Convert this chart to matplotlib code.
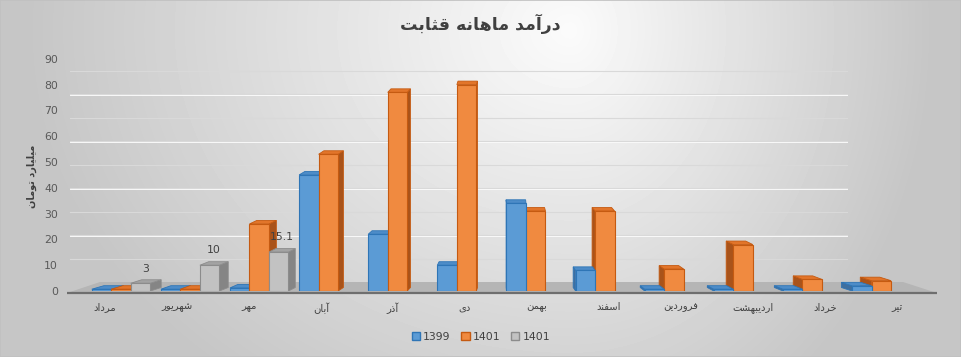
import numpy as np
import matplotlib.pyplot as plt
from matplotlib.patches import Polygon, Patch

# Data
months = ['مرداد', 'شهریور', 'مهر', 'آبان', 'آذر', 'دی', 'بهمن', 'اسفند',
          'فروردین', 'اردیبهشت', 'خرداد', 'تیر']
s1399 = [0.7, 0.7, 1.2, 45, 22, 10, 34, 8, 0.7, 0.7, 0.7, 2]
s1401 = [0.7, 0.7, 26, 53, 77, 80, 31, 31, 8.5, 18, 4.5, 4]
s1401_b = [3, 10, 15.1, 0, 0, 0, 0, 0, 0, 0, 0, 0]
legend_labels = ['1399', '1401', '1401']
title = 'درآمد ماهانه قثابت'
ylabel = 'میلیارد تومان'

# Persian shaping (matplotlib has no complex text layout)
FORMS = {
    'ا': ('\uFE8D', '\uFE8E', None, None),
    'آ': ('\uFE81', '\uFE82', None, None),
    'ب': ('\uFE8F', '\uFE90', '\uFE91', '\uFE92'),
    'ت': ('\uFE95', '\uFE96', '\uFE97', '\uFE98'),
    'ث': ('\uFE99', '\uFE9A', '\uFE9B', '\uFE9C'),
    'خ': ('\uFEA5', '\uFEA6', '\uFEA7', '\uFEA8'),
    'د': ('\uFEA9', '\uFEAA', None, None),
    'ذ': ('\uFEAB', '\uFEAC', None, None),
    'ر': ('\uFEAD', '\uFEAE', None, None),
    'س': ('\uFEB1', '\uFEB2', '\uFEB3', '\uFEB4'),
    'ش': ('\uFEB5', '\uFEB6', '\uFEB7', '\uFEB8'),
    'ف': ('\uFED1', '\uFED2', '\uFED3', '\uFED4'),
    'ق': ('\uFED5', '\uFED6', '\uFED7', '\uFED8'),
    'ل': ('\uFEDD', '\uFEDE', '\uFEDF', '\uFEE0'),
    'م': ('\uFEE1', '\uFEE2', '\uFEE3', '\uFEE4'),
    'ن': ('\uFEE5', '\uFEE6', '\uFEE7', '\uFEE8'),
    'ه': ('\uFEE9', '\uFEEA', '\uFEEB', '\uFEEC'),
    'و': ('\uFEED', '\uFEEE', None, None),
    'ی': ('\uFEEF', '\uFEF0', '\uFEF3', '\uFEF4'),
}


def fa(text):
    out = []
    for j, ch in enumerate(text):
        if ch not in FORMS:
            out.append(ch)
            continue
        prev = text[j - 1] if j > 0 else ''
        nxt = text[j + 1] if j + 1 < len(text) else ''
        jp = prev in FORMS and FORMS[prev][2] is not None
        jn = nxt in FORMS and FORMS[ch][2] is not None
        f = FORMS[ch]
        if jp and jn:
            out.append(f[3])
        elif jp:
            out.append(f[1])
        elif jn:
            out.append(f[2])
        else:
            out.append(f[0])
    return ''.join(out[::-1])


W, H = 961, 357
fig = plt.figure(figsize=(W / 100, H / 100), dpi=100)

# gradient background
bg = fig.add_axes([0, 0, 1, 1], zorder=-10)
yy, xx = np.mgrid[0:H, 0:W]
sx = np.where(xx < 570, 540.0, 360.0)
d = np.sqrt(((xx - 570) / sx) ** 2 + ((yy - 30) / 440) ** 2)
shade = 251 - 53 * np.clip(d, 0, 1)
bg.imshow(shade, cmap='gray', vmin=0, vmax=255, aspect='auto', extent=[0, 1, 0, 1])
bg.axis('off')

# plot area: x unit = 72 px, y unit = 2.58 px
PXX, PXY = 72.0, 2.58
ax = fig.add_axes([69 / W, (H - 291) / H, 864 / W, 232.2 / H])
ax.patch.set_alpha(0)
ax.set_xlim(-0.5, 11.5)
ax.set_ylim(0, 90)
for s in ax.spines.values():
    s.set_visible(False)

# back wall gridlines and floor
yb0 = (291 - 282) / PXY
gx = [(70 - 105) / PXX, (847 - 105) / PXX]
for v in range(10, 91, 10):
    yg = yb0 + v * 2.35 / PXY
    ax.plot(gx, [yg, yg], color='#d9d9d9', lw=0.8, zorder=0.5)
    ax.plot(gx, [yg - 0.35, yg - 0.35], color='#fbfbfb', lw=0.7, zorder=0.4)
yf = -0.78
floor = Polygon([((67 - 105) / PXX, yf), ((937 - 105) / PXX, yf),
                 ((903 - 105) / PXX, yb0), ((100 - 105) / PXX, yb0)],
                closed=True, facecolor='#b5b5b5', edgecolor='none', zorder=0.6, clip_on=False)
ax.add_patch(floor)
ax.plot([(67 - 105) / PXX, (937 - 105) / PXX], [yf, yf], color='#6e6e6e', lw=1.6,
        zorder=0.7, clip_on=False, solid_capstyle='butt')

# 3D-looking bars
VP, F, DYP = 505.0, 0.03, 3.5
c = (VP - 105) / PXX
BW = 19.5 / PXX
series = [
    (s1399, '#5b9bd5', '#2e75b6', '#3f6f9f', '#4d8cc8'),
    (s1401, '#f08a40', '#c55a11', '#a9531a', '#e2752a'),
    (s1401_b, '#c2c2c2', '#8c8c8c', '#858585', '#a3a3a3'),
]
x_idx = np.arange(len(months))
for k, (vals, fc, ec, sc, tc) in enumerate(series):
    xs = c + (x_idx - c) * 0.96 + (k - 1) * BW
    bars = ax.bar(xs, vals, width=BW, color=fc, edgecolor=ec, linewidth=0.8)
    for xc, v, p in zip(xs, vals, bars):
        if v <= 0:
            p.set_visible(False)
            continue
        xp = 105 + PXX * xc
        z = 3 - abs(xp - VP) / 1000.0
        p.set_zorder(z)
        dx = (VP - xp) * F / PXX
        dy = DYP / PXY
        x0, x1 = xc - BW / 2, xc + BW / 2
        xsd = x1 if dx > 0 else x0
        side = Polygon([(xsd, 0), (xsd, v), (xsd + dx, v + dy), (xsd + dx, dy)],
                       closed=True, facecolor=sc, edgecolor=ec, lw=0.6, zorder=z - 0.0001)
        top = Polygon([(x0, v), (x1, v), (x1 + dx, v + dy), (x0 + dx, v + dy)],
                      closed=True, facecolor=tc, edgecolor=ec, lw=0.6, zorder=z - 0.0001)
        ax.add_patch(side)
        ax.add_patch(top)
        if k == 2:
            ax.annotate(f'{v:g}', (xc + dx / 2, v + dy), xytext=(0, 4.5),
                        textcoords='offset points', ha='center', va='bottom',
                        fontsize=7.8, color='#404040', zorder=10)

ax.set_yticks(range(0, 91, 10))
ax.set_xticks(x_idx)
ax.set_xticklabels([fa(m) for m in months], fontsize=7.2, color='#404040')
ax.tick_params(axis='x', length=0, pad=8)
ax.tick_params(axis='y', length=0, pad=8, labelsize=7.8, labelcolor='#595959')

fig.text(480 / W, 1 - 24 / H, fa(title), ha='center', va='center',
         fontsize=12.5, fontweight='bold', color='#404040')
fig.text(32 / W, 1 - 176 / H, fa(ylabel), ha='center', va='center', rotation=90,
         fontsize=7, fontweight='bold', color='#404040')

handles = [Patch(facecolor=s[1], edgecolor=s[2]) for s in series]
fig.legend(handles, legend_labels, loc='center', bbox_to_anchor=(481 / W, 1 - 337 / H),
           ncol=3, frameon=False, fontsize=7.8, handlelength=0.75, handleheight=0.75,
           columnspacing=1.0, handletextpad=0.3, labelcolor='#404040')

# thin chart border
fig.patches.append(plt.Rectangle((0, 0), 1, 1, transform=fig.transFigure, fill=False,
                                 edgecolor='#c0c0c0', lw=1.2))

fig.savefig('out.png', dpi=100)
